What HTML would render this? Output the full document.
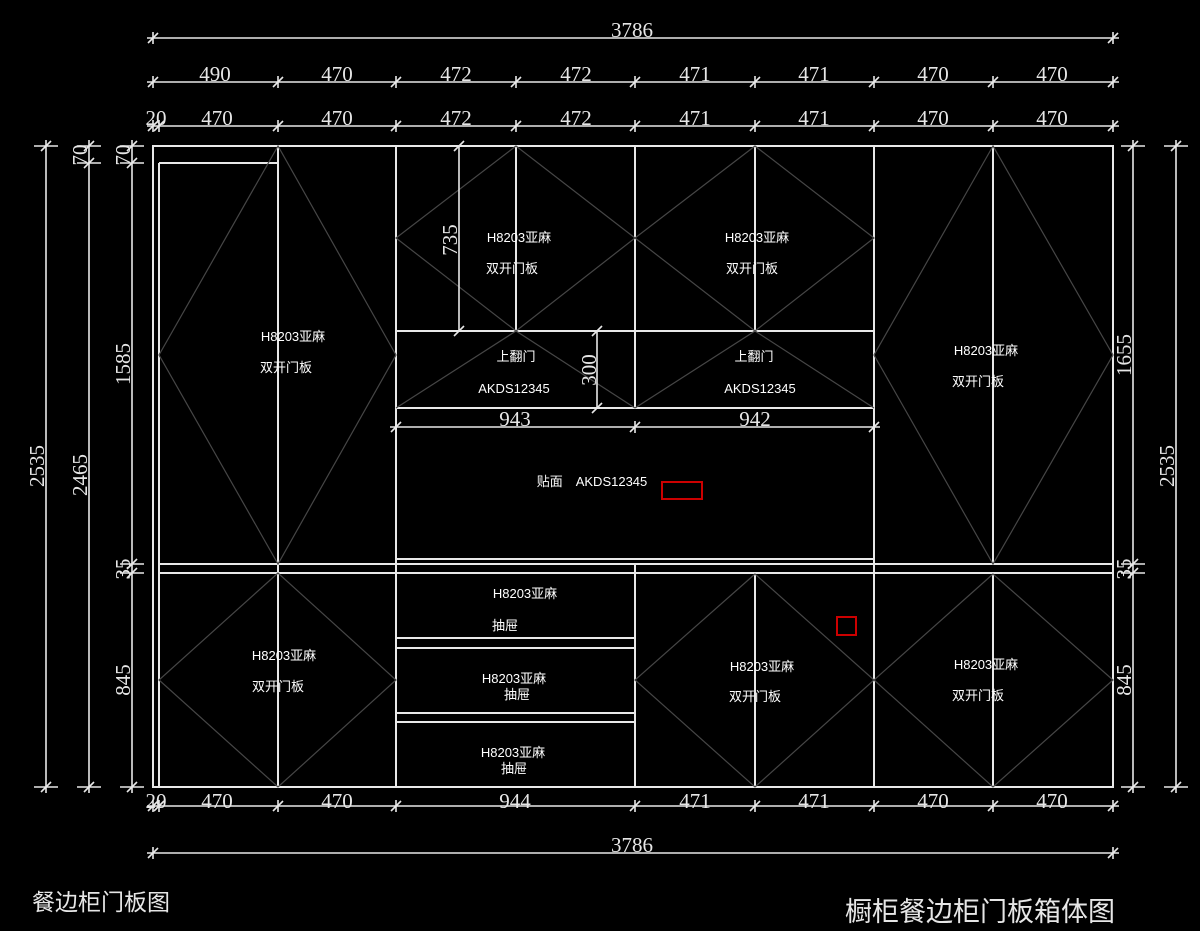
<!DOCTYPE html>
<html><head><meta charset="utf-8"><style>
html,body{margin:0;padding:0;background:#000;}
svg{display:block;}
text{font-family:"Liberation Serif","Noto Sans CJK SC",serif;fill:#e6e6e6;}
.c{font-family:"Liberation Sans","Noto Sans CJK SC",sans-serif;font-size:13px;fill:#fff;}
.d{font-size:21px;}
</style></head><body>
<svg id="s" width="1200" height="931" viewBox="0 0 1200 931" xmlns="http://www.w3.org/2000/svg">
<g id="g" stroke="#e8e8e8" stroke-width="2" fill="none">
<rect x="153" y="146" width="960" height="641"/>
<line x1="159" y1="163" x2="159" y2="787"/>
<line x1="159" y1="163" x2="278" y2="163"/>
<line x1="278" y1="146" x2="278" y2="787"/>
<line x1="396" y1="146" x2="396" y2="787"/>
<line x1="516" y1="146" x2="516" y2="331"/>
<line x1="635" y1="146" x2="635" y2="408"/>
<line x1="755" y1="146" x2="755" y2="331"/>
<line x1="874" y1="146" x2="874" y2="787"/>
<line x1="993" y1="146" x2="993" y2="564"/>
<line x1="993" y1="574" x2="993" y2="787"/>
<line x1="396" y1="331" x2="874" y2="331"/>
<line x1="396" y1="408" x2="874" y2="408"/>
<line x1="396" y1="559" x2="874" y2="559"/>
<line x1="159" y1="564" x2="1113" y2="564"/>
<line x1="159" y1="573" x2="1113" y2="573"/>
<line x1="635" y1="564" x2="635" y2="787"/>
<line x1="755" y1="574" x2="755" y2="787"/>
<line x1="396" y1="638" x2="635" y2="638"/>
<line x1="396" y1="648" x2="635" y2="648"/>
<line x1="396" y1="713" x2="635" y2="713"/>
<line x1="396" y1="722" x2="635" y2="722"/>
</g>
<g stroke="#464646" stroke-width="1.2" fill="none">
<polygon points="278,146 159,355 278,564 396,355"/>
<polygon points="993,146 874,355 993,564 1113,355"/>
<polygon points="516,146 396,238 516,331 635,238"/>
<polygon points="755,146 635,238 755,331 874,238"/>
<polyline points="396,408 516,331 635,408"/>
<polyline points="635,408 755,331 874,408"/>
<polygon points="278,573 159,680 278,787 396,680"/>
<polygon points="755,574 635,680 755,787 874,680"/>
<polygon points="993,574 874,680 993,787 1113,680"/>
</g>
<rect x="662" y="482" width="40" height="17" fill="none" stroke="#c00" stroke-width="2"/>
<rect x="837" y="617" width="19" height="18" fill="none" stroke="#c00" stroke-width="2"/>
<g id="dims" stroke="#e8e8e8" stroke-width="1.6"></g>
<text class="d" x="632" y="37" text-anchor="middle">3786</text>
<text class="d" x="215" y="81" text-anchor="middle">490</text>
<text class="d" x="337" y="81" text-anchor="middle">470</text>
<text class="d" x="456" y="81" text-anchor="middle">472</text>
<text class="d" x="576" y="81" text-anchor="middle">472</text>
<text class="d" x="695" y="81" text-anchor="middle">471</text>
<text class="d" x="814" y="81" text-anchor="middle">471</text>
<text class="d" x="933" y="81" text-anchor="middle">470</text>
<text class="d" x="1052" y="81" text-anchor="middle">470</text>
<text class="d" x="156" y="125" text-anchor="middle">20</text>
<text class="d" x="217" y="125" text-anchor="middle">470</text>
<text class="d" x="337" y="125" text-anchor="middle">470</text>
<text class="d" x="456" y="125" text-anchor="middle">472</text>
<text class="d" x="576" y="125" text-anchor="middle">472</text>
<text class="d" x="695" y="125" text-anchor="middle">471</text>
<text class="d" x="814" y="125" text-anchor="middle">471</text>
<text class="d" x="933" y="125" text-anchor="middle">470</text>
<text class="d" x="1052" y="125" text-anchor="middle">470</text>
<text class="d" x="156" y="808" text-anchor="middle">20</text>
<text class="d" x="217" y="808" text-anchor="middle">470</text>
<text class="d" x="337" y="808" text-anchor="middle">470</text>
<text class="d" x="515" y="808" text-anchor="middle">944</text>
<text class="d" x="695" y="808" text-anchor="middle">471</text>
<text class="d" x="814" y="808" text-anchor="middle">471</text>
<text class="d" x="933" y="808" text-anchor="middle">470</text>
<text class="d" x="1052" y="808" text-anchor="middle">470</text>
<text class="d" x="632" y="852" text-anchor="middle">3786</text>
<text class="d" x="515" y="426" text-anchor="middle">943</text>
<text class="d" x="755" y="426" text-anchor="middle">942</text>
<text class="d" transform="translate(44,466) rotate(-90)" text-anchor="middle">2535</text>
<text class="d" transform="translate(87,155) rotate(-90)" text-anchor="middle">70</text>
<text class="d" transform="translate(87,475) rotate(-90)" text-anchor="middle">2465</text>
<text class="d" transform="translate(130,155) rotate(-90)" text-anchor="middle">70</text>
<text class="d" transform="translate(130,364) rotate(-90)" text-anchor="middle">1585</text>
<text class="d" transform="translate(130,569) rotate(-90)" text-anchor="middle">35</text>
<text class="d" transform="translate(130,680) rotate(-90)" text-anchor="middle">845</text>
<text class="d" transform="translate(457,240) rotate(-90)" text-anchor="middle">735</text>
<text class="d" transform="translate(596,370) rotate(-90)" text-anchor="middle">300</text>
<text class="d" transform="translate(1131,355) rotate(-90)" text-anchor="middle">1655</text>
<text class="d" transform="translate(1131,569) rotate(-90)" text-anchor="middle">35</text>
<text class="d" transform="translate(1131,680) rotate(-90)" text-anchor="middle">845</text>
<text class="d" transform="translate(1174,466) rotate(-90)" text-anchor="middle">2535</text>
<g class="c">
<text class="c" x="293" y="341" text-anchor="middle">H8203亚麻</text>
<text class="c" x="286" y="372" text-anchor="middle">双开门板</text>
<text class="c" x="519" y="242" text-anchor="middle">H8203亚麻</text>
<text class="c" x="512" y="273" text-anchor="middle">双开门板</text>
<text class="c" x="757" y="242" text-anchor="middle">H8203亚麻</text>
<text class="c" x="752" y="273" text-anchor="middle">双开门板</text>
<text class="c" x="516" y="361" text-anchor="middle">上翻门</text>
<text class="c" x="514" y="393" text-anchor="middle">AKDS12345</text>
<text class="c" x="754" y="361" text-anchor="middle">上翻门</text>
<text class="c" x="760" y="393" text-anchor="middle">AKDS12345</text>
<text class="c" x="592" y="486" text-anchor="middle">贴面　AKDS12345</text>
<text class="c" x="986" y="355" text-anchor="middle">H8203亚麻</text>
<text class="c" x="978" y="386" text-anchor="middle">双开门板</text>
<text class="c" x="525" y="598" text-anchor="middle">H8203亚麻</text>
<text class="c" x="505" y="630" text-anchor="middle">抽屉</text>
<text class="c" x="514" y="683" text-anchor="middle">H8203亚麻</text>
<text class="c" x="517" y="699" text-anchor="middle">抽屉</text>
<text class="c" x="513" y="757" text-anchor="middle">H8203亚麻</text>
<text class="c" x="514" y="773" text-anchor="middle">抽屉</text>
<text class="c" x="284" y="660" text-anchor="middle">H8203亚麻</text>
<text class="c" x="278" y="691" text-anchor="middle">双开门板</text>
<text class="c" x="762" y="671" text-anchor="middle">H8203亚麻</text>
<text class="c" x="755" y="701" text-anchor="middle">双开门板</text>
<text class="c" x="986" y="669" text-anchor="middle">H8203亚麻</text>
<text class="c" x="978" y="700" text-anchor="middle">双开门板</text>
</g>
<text x="32" y="910" style="font-family:'Noto Sans CJK SC',sans-serif;font-size:23px;fill:#e6e6e6">餐边柜门板图</text>
<text x="845" y="921" style="font-family:'Noto Sans CJK SC',sans-serif;font-size:27px;fill:#e6e6e6">橱柜餐边柜门板箱体图</text>
</svg>
<script>
var g=document.getElementById('dims'),NS='http://www.w3.org/2000/svg';
function L(a,b,c,d){var l=document.createElementNS(NS,'line');l.setAttribute('x1',a);l.setAttribute('y1',b);l.setAttribute('x2',c);l.setAttribute('y2',d);g.appendChild(l);}
function T(x,y){L(x-5,y+5,x+5,y-5);}
function H(y,xs){L(xs[0]-6,y,xs[xs.length-1]+6,y);xs.forEach(function(x){T(x,y);L(x,y-6,x,y+6);});}
function V(x,ys){L(x,ys[0]-6,x,ys[ys.length-1]+6);ys.forEach(function(y){T(x,y);L(x-12,y,x+12,y);});}
H(38,[153,1113]);
H(82,[153,278,396,516,635,755,874,993,1113]);
H(126,[153,159,278,396,516,635,755,874,993,1113]);
H(806,[153,159,278,396,635,755,874,993,1113]);
H(853,[153,1113]);
H(427,[396,635,874]);
V(46,[146,787]);
V(89,[146,163,787]);
V(132,[146,163,564,573,787]);
V(1133,[146,564,573,787]);
V(1176,[146,787]);
L(459,146,459,331);T(459,146);T(459,331);
L(597,331,597,408);T(597,331);T(597,408);
</script>
</body></html>
